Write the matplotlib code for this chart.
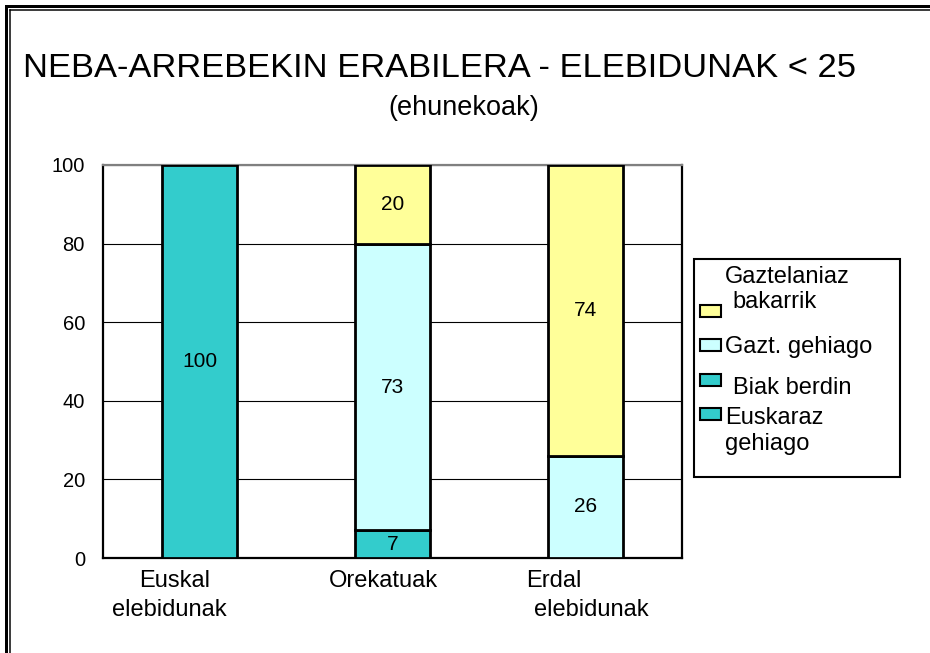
import matplotlib
matplotlib.use("Agg")
import matplotlib.pyplot as plt
from matplotlib.patches import Rectangle
from matplotlib.lines import Line2D
import numpy as np

plt.rcParams['font.family'] = ['Liberation Sans', 'DejaVu Sans']

# ---- data ----
categories = ["Euskal\nelebidunak", "Orekatuak", "Erdal\nelebidunak"]
series_names = ["Euskaraz gehiago", "Biak berdin", "Gazt. gehiago", "Gaztelaniaz bakarrik"]
euskaraz_gehiago = [100, 0, 0]
biak_berdin = [0, 7, 0]
gazt_gehiago = [0, 73, 26]
gaztelaniaz_bakarrik = [0, 20, 74]
yticks = [0, 20, 40, 60, 80, 100]
title = "NEBA-ARREBEKIN ERABILERA - ELEBIDUNAK < 25"
subtitle = "(ehunekoak)"
legend_labels = ["Gaztelaniaz\n bakarrik", "Gazt. gehiago", " Biak berdin", "Euskaraz\ngehiago"]

colors = ["#33CCCC", "#33CCCC", "#CCFFFF", "#FFFF99"]
W, H = 930, 653
fig = plt.figure(figsize=(W / 100, H / 100), dpi=100)

def fx(x):
    return x / W

def fy(y):
    return 1 - y / H

# outer double frame
for (lw, off) in [(3.0, 5.5), (1.5, 10)]:
    fig.add_artist(Line2D([fx(off), fx(off)], [fy(off), 0], lw=lw * 0.72, color="black"))
    fig.add_artist(Line2D([fx(off), 1], [fy(off), fy(off)], lw=lw * 0.72, color="black"))

ax = fig.add_axes([fx(103), fy(558), (682 - 103) / W, (558 - 165) / H])
x = np.arange(len(categories))
series = [euskaraz_gehiago, biak_berdin, gazt_gehiago, gaztelaniaz_bakarrik]
bottom = np.zeros(len(categories))
for vals, col in zip(series, colors):
    vals = np.array(vals, dtype=float)
    mask = vals > 0
    ax.bar(x[mask], vals[mask], bottom=bottom[mask], width=0.39, color=col,
           edgecolor="black", linewidth=2.0, zorder=3)
    for xi, v, b in zip(x[mask], vals[mask], bottom[mask]):
        ax.text(xi, b + v / 2, f"{int(v)}", ha="center", va="center", fontsize=15, zorder=4)
    bottom += vals

ax.set_xlim(-0.5, len(categories) - 0.5)
ax.set_ylim(0, 100)
ax.set_yticks(yticks)
ax.set_yticklabels([str(t) for t in yticks], fontsize=14.5)
ax.tick_params(axis="y", length=0, pad=13)
ax.set_xticks([])
ax.grid(axis="y", color="black", linewidth=0.8, zorder=0)
for s in ax.spines.values():
    s.set_linewidth(1.6)
    s.set_color("black")
ax.spines["top"].set_color("#808080")

# category labels (line-wise offsets in pixels)
line_dx = [[-25, -30], [-9], [-32, 6]]
for i, lab in enumerate(categories):
    for j, line in enumerate(lab.split("\n")):
        ax.annotate(line, xy=(x[i], 0), xycoords=("data", "axes fraction"),
                    xytext=(line_dx[i][j] * 0.72, -(23 + 29 * j) * 0.72),
                    textcoords="offset points", ha="center", va="center", fontsize=17)

# titles
fig.text(fx(23), fy(77), title, fontsize=24.8, ha="left", va="baseline")
fig.text(fx(464), fy(115), subtitle, fontsize=19.5, ha="center", va="baseline")

# manual legend
fig.add_artist(Rectangle((fx(694), fy(477)), (900 - 694) / W, (477 - 259) / H,
                         transform=fig.transFigure, facecolor="white", edgecolor="black", lw=1.5))
leg_colors = [colors[3], colors[2], colors[1], colors[0]]
handle_y = [311, 345, 380, 414]
text_items = [(725, 277, "Gaztelaniaz"), (732, 302, "bakarrik"),
              (725, 347, "Gazt. gehiago"), (733, 388, "Biak berdin"),
              (725, 418, "Euskaraz"), (725, 444, "gehiago")]
for c, hy in zip(leg_colors, handle_y):
    fig.add_artist(Rectangle((fx(700), fy(hy + 6)), 21 / W, 12 / H, transform=fig.transFigure,
                             facecolor=c, edgecolor="black", lw=1.5))
for tx, ty, t in text_items:
    fig.text(fx(tx), fy(ty), t, fontsize=17, ha="left", va="center")

fig.savefig("out.png", dpi=100)
